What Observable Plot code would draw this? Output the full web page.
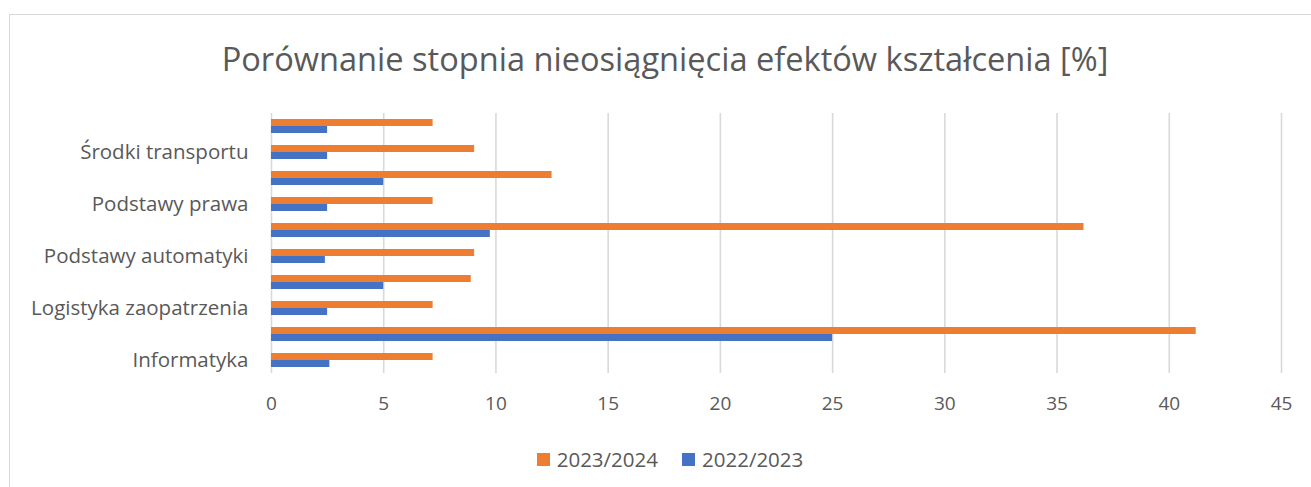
<!DOCTYPE html>
<html><head><meta charset="utf-8">
<script src="https://cdn.jsdelivr.net/npm/d3@7"></script>
<script src="https://cdn.jsdelivr.net/npm/@observablehq/plot@0.6"></script>
<style>
body{margin:0;background:#fff;width:1311px;height:487px;overflow:hidden;position:relative;font-family:"Open Sans",sans-serif;}
#frame{position:absolute;left:9px;top:14px;width:1330px;height:520px;border:1px solid #d9d9d9;box-sizing:border-box;}
#chart{position:absolute;left:0;top:0;}
#title{position:absolute;left:0;width:1330px;top:36px;text-align:center;font-size:32.6px;color:#595959;line-height:46px;white-space:nowrap;}
#legend{position:absolute;left:0;width:1340px;top:445px;display:flex;justify-content:center;align-items:center;font-size:20.5px;color:#595959;}
#legend .item{display:flex;align-items:center;margin:0 12px;}
#legend .sw{width:13px;height:13px;margin-right:7px;}
</style></head>
<body>
<div id="frame"></div>
<div id="chart"></div>
<div id="title">Porównanie stopnia nieosiągnięcia efektów kształcenia [%]</div>
<div id="legend"></div>
<script>
// categories from bottom to top; unlabeled rows in the reference have empty labels
const categories = ["Informatyka", "", "Logistyka zaopatrzenia", "", "Podstawy automatyki", "", "Podstawy prawa", "", "Środki transportu", ""];
const seriesNames = ["2023/2024", "2022/2023"];
const values2324 = [7.2, 41.2, 7.2, 8.9, 9.05, 36.2, 7.2, 12.5, 9.05, 7.2];
const values2223 = [2.6, 25, 2.5, 5, 2.4, 9.75, 2.5, 5, 2.5, 2.5];
const xTicks = [0, 5, 10, 15, 20, 25, 30, 35, 40, 45];
const colors = ["#ED7D31", "#4472C4"];

const rows2324 = categories.map((c, i) => ({i, series: seriesNames[0], value: values2324[i]}));
const rows2223 = categories.map((c, i) => ({i, series: seriesNames[1], value: values2223[i]}));

const chart = Plot.plot({
  width: 1311,
  height: 430,
  marginTop: 113,
  marginBottom: 57,
  marginLeft: 271,
  marginRight: 30,
  style: {background: "transparent", fontFamily: "Open Sans, sans-serif", color: "#595959"},
  x: {domain: [0, 45]},
  y: {domain: d3.range(categories.length).reverse(), paddingInner: 0.46, paddingOuter: 0.23},
  marks: [
    Plot.gridX(xTicks, {stroke: "#d9d9d9", strokeOpacity: 1, strokeWidth: 1.6}),
    Plot.barX(rows2324, {x: "value", y: "i", fill: colors[0], insetBottom: 7}),
    Plot.barX(rows2223, {x: "value", y: "i", fill: colors[1], insetTop: 7}),
    Plot.axisX({ticks: xTicks, tickSize: 0, tickPadding: 23, fontSize: 19, fill: "#595959", label: null}),
    Plot.axisY({tickSize: 0, tickPadding: 23, fontSize: 20.5, fill: "#595959", label: null, tickFormat: i => categories[i]})
  ]
});
document.getElementById("chart").appendChild(chart);

const legend = document.getElementById("legend");
seriesNames.forEach((s, k) => {
  const it = document.createElement("div");
  it.className = "item";
  it.innerHTML = `<span class="sw" style="background:${colors[k]}"></span><span>${s}</span>`;
  legend.appendChild(it);
});
</script>
</body></html>
